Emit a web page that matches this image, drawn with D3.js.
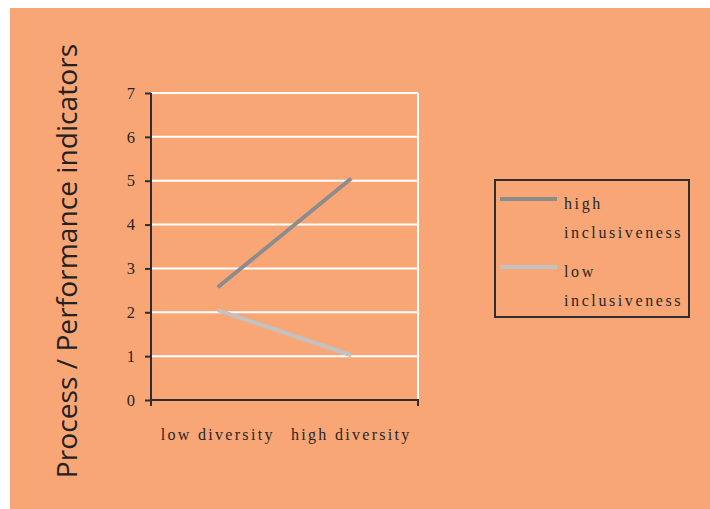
<!DOCTYPE html>
<html>
<head>
<meta charset="utf-8">
<script src="https://cdn.jsdelivr.net/npm/d3@7"></script>
<style>
  html, body { margin: 0; padding: 0; background: #ffffff; }
  svg { display: block; }
</style>
</head>
<body>
<script>
// Interaction plot: diversity × inclusiveness
const categories = ["low diversity", "high diversity"];
const seriesNames = ["high inclusiveness", "low inclusiveness"];
const highInclusiveness = [2.57, 5.05];
const lowInclusiveness = [2.05, 1.02];
const yTicks = [0, 1, 2, 3, 4, 5, 6, 7];
const yTitle = "Process / Performance indicators";
const legendLines = [["high", "inclusiveness"], ["low", "inclusiveness"]];

const W = 710, H = 509;
const bg = "#f9a677";
const axisColor = "#2e2e2e";
const seriesColors = ["#8c8c8c", "#c2c2c2"];
const serif = "'Liberation Serif', 'Times New Roman', serif";

const svg = d3.select("body").append("svg")
  .attr("width", W).attr("height", H);

// panel background
svg.append("rect").attr("x", 10).attr("y", 8)
  .attr("width", W - 10).attr("height", H - 8).attr("fill", bg);

const plot = { left: 151, right: 418, top: 93, bottom: 400 };

const x = d3.scaleBand().domain(categories)
  .range([plot.left, plot.right]);
const y = d3.scaleLinear().domain([0, 7])
  .range([plot.bottom, plot.top]);

// horizontal gridlines
svg.append("g").selectAll("line").data(yTicks.filter(d => d > 0)).join("line")
  .attr("x1", plot.left).attr("x2", plot.right)
  .attr("y1", d => y(d)).attr("y2", d => y(d))
  .attr("stroke", "#ffffff").attr("stroke-width", 2);
// right border of the plot area
svg.append("line")
  .attr("x1", plot.right).attr("x2", plot.right)
  .attr("y1", plot.top).attr("y2", plot.bottom)
  .attr("stroke", "#ffffff").attr("stroke-width", 2);

// y axis
const yAxis = svg.append("g")
  .attr("transform", `translate(${plot.left},0)`)
  .call(d3.axisLeft(y).tickValues(yTicks).tickSize(6).tickPadding(10)
    .tickFormat(d3.format("d")));
yAxis.select(".domain").attr("stroke", axisColor).attr("stroke-width", 2)
  .attr("d", `M0,${plot.top}V${plot.bottom + 6}`);
yAxis.selectAll(".tick line").attr("stroke", axisColor).attr("stroke-width", 2);
yAxis.selectAll(".tick text")
  .attr("font-family", serif).attr("font-size", 16.5)
  .attr("fill", "#262626");

// x axis
const xAxis = svg.append("g")
  .attr("transform", `translate(0,${plot.bottom})`)
  .call(d3.axisBottom(x).tickSize(0).tickPadding(29));
xAxis.select(".domain").attr("stroke", axisColor).attr("stroke-width", 2)
  .attr("d", `M${plot.left},0H${plot.right}V6`);
xAxis.selectAll(".tick text")
  .attr("font-family", serif).attr("font-size", 16)
  .attr("letter-spacing", "2.3px")
  .attr("fill", "#262626");

// series lines
const series = [highInclusiveness, lowInclusiveness];
const line = d3.line()
  .x((d, i) => x(categories[i]) + x.bandwidth() / 2)
  .y(d => y(d));
svg.append("g").selectAll("path").data(series).join("path")
  .attr("d", d => line(d))
  .attr("fill", "none")
  .attr("stroke", (d, i) => seriesColors[i])
  .attr("stroke-width", 4);

// y axis title
svg.append("text")
  .attr("transform", `translate(77,261) rotate(-90)`)
  .attr("text-anchor", "middle")
  .attr("font-family", "'Open Sans', 'Noto Sans', sans-serif")
  .attr("font-size", 28.2)
  .attr("fill", "#222222")
  .text(yTitle);

// legend
const lg = svg.append("g").attr("transform", "translate(495,180)");
lg.append("rect").attr("width", 194).attr("height", 137)
  .attr("fill", "none").attr("stroke", axisColor).attr("stroke-width", 2);
const rowY = [19, 87];
seriesNames.forEach((name, i) => {
  lg.append("line")
    .attr("x1", 5).attr("x2", 62)
    .attr("y1", rowY[i]).attr("y2", rowY[i])
    .attr("stroke", seriesColors[i]).attr("stroke-width", 4);
  const t = lg.append("text")
    .attr("font-family", serif).attr("font-size", 16)
    .attr("letter-spacing", "2.6px")
    .attr("fill", "#262626");
  legendLines[i].forEach((s, j) => {
    t.append("tspan").attr("x", 69).attr("y", rowY[i] + 10 + j * 29).text(s);
  });
});
</script>
</body>
</html>
